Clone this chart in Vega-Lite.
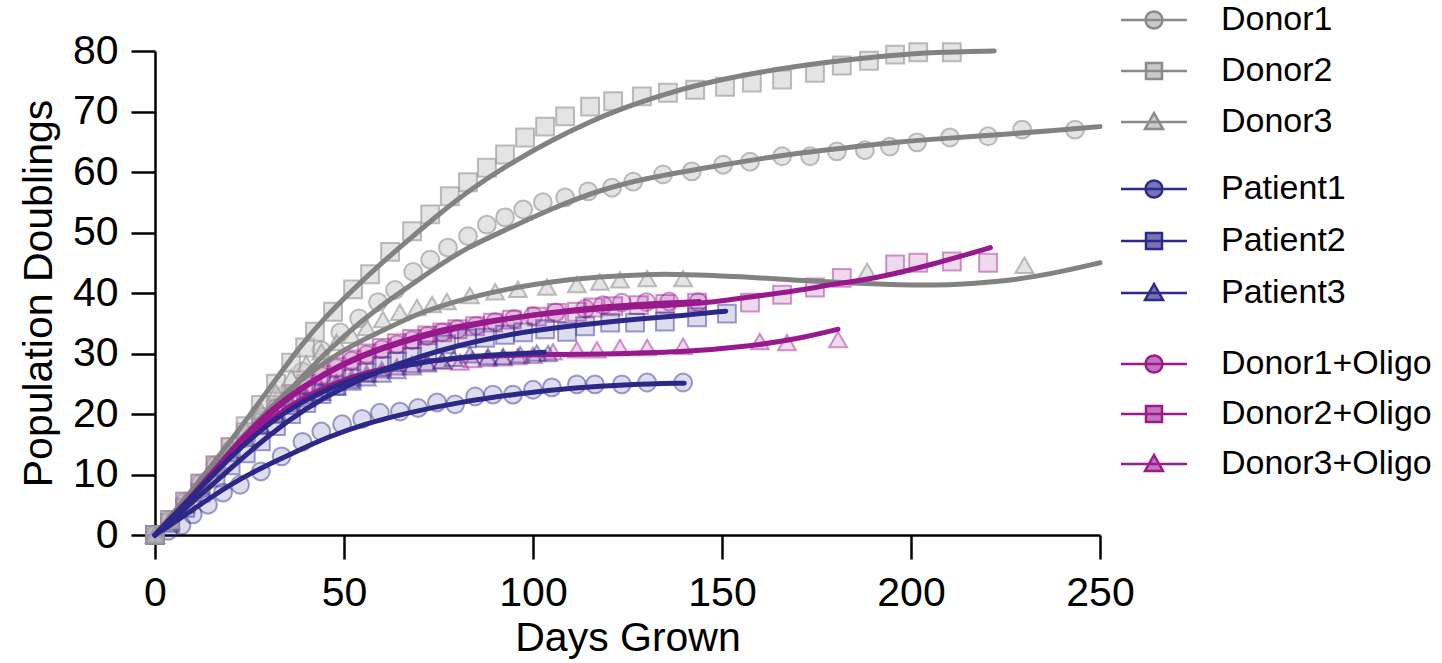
{
"$schema":"https://vega.github.io/schema/vega-lite/v6.json",
"width":945,"height":484,
"autosize":{"type":"none"},
"padding":{"left":155,"top":51,"right":342,"bottom":128},
"background":"white",
"config":{
 "font":"Liberation Sans",
 "view":{"stroke":null},
 "axis":{"domainColor":"black","domainWidth":2.5,"tickColor":"black","tickWidth":2.5,"tickSize":24,"labelFontSize":41,"titleFontSize":41,"titleFontWeight":"normal","labelColor":"black","titleColor":"black","grid":false,"labelFlush":false}
},
"datasets":{
"pts":[
{"series":"Donor1","day":0,"pd":0},{"series":"Donor1","day":4,"pd":2.5},{"series":"Donor1","day":9,"pd":5.5},{"series":"Donor1","day":14,"pd":9},{"series":"Donor1","day":19,"pd":12.5},{"series":"Donor1","day":24,"pd":16},{"series":"Donor1","day":29,"pd":19.5},{"series":"Donor1","day":34,"pd":23},{"series":"Donor1","day":39,"pd":27},{"series":"Donor1","day":44,"pd":30.5},{"series":"Donor1","day":49,"pd":33.5},{"series":"Donor1","day":54,"pd":35.8},{"series":"Donor1","day":59,"pd":38.5},{"series":"Donor1","day":63.5,"pd":40.5},{"series":"Donor1","day":68.3,"pd":43.5},{"series":"Donor1","day":72.8,"pd":45.5},{"series":"Donor1","day":77.5,"pd":47.5},{"series":"Donor1","day":82.8,"pd":49.4},{"series":"Donor1","day":87.8,"pd":51.3},{"series":"Donor1","day":92.6,"pd":52.5},{"series":"Donor1","day":97.4,"pd":53.8},{"series":"Donor1","day":102.6,"pd":55},{"series":"Donor1","day":108.5,"pd":55.8},{"series":"Donor1","day":114.6,"pd":56.8},{"series":"Donor1","day":120.9,"pd":57.4},{"series":"Donor1","day":126.5,"pd":58.4},{"series":"Donor1","day":134.4,"pd":59.6},{"series":"Donor1","day":142,"pd":60.1},{"series":"Donor1","day":150.3,"pd":61.2},{"series":"Donor1","day":157.4,"pd":61.7},{"series":"Donor1","day":165.9,"pd":62.6},{"series":"Donor1","day":173.3,"pd":62.6},{"series":"Donor1","day":180.4,"pd":63.4},{"series":"Donor1","day":187.8,"pd":63.6},{"series":"Donor1","day":194.4,"pd":64.2},{"series":"Donor1","day":201.6,"pd":64.9},{"series":"Donor1","day":210.3,"pd":65.7},{"series":"Donor1","day":220.4,"pd":65.9},{"series":"Donor1","day":229.4,"pd":67},{"series":"Donor1","day":243.4,"pd":67},
{"series":"Donor2","day":0,"pd":0},{"series":"Donor2","day":4,"pd":2.5},{"series":"Donor2","day":8,"pd":5.5},{"series":"Donor2","day":12,"pd":8.5},{"series":"Donor2","day":16,"pd":11.5},{"series":"Donor2","day":20,"pd":14.5},{"series":"Donor2","day":24,"pd":18},{"series":"Donor2","day":28,"pd":21.5},{"series":"Donor2","day":32,"pd":25},{"series":"Donor2","day":36,"pd":28.5},{"series":"Donor2","day":39.7,"pd":31},{"series":"Donor2","day":42.3,"pd":33.6},{"series":"Donor2","day":47.1,"pd":36.9},{"series":"Donor2","day":52.4,"pd":40.6},{"series":"Donor2","day":56.9,"pd":43.1},{"series":"Donor2","day":62.2,"pd":46.8},{"series":"Donor2","day":68,"pd":50.2},{"series":"Donor2","day":72.8,"pd":53},{"series":"Donor2","day":78,"pd":56},{"series":"Donor2","day":82.8,"pd":58.3},{"series":"Donor2","day":87.8,"pd":60.7},{"series":"Donor2","day":92.6,"pd":62.9},{"series":"Donor2","day":97.9,"pd":65.7},{"series":"Donor2","day":103.2,"pd":67.5},{"series":"Donor2","day":108.5,"pd":69.2},{"series":"Donor2","day":115.1,"pd":70.8},{"series":"Donor2","day":121.2,"pd":71.7},{"series":"Donor2","day":128.8,"pd":72.5},{"series":"Donor2","day":135.7,"pd":73.1},{"series":"Donor2","day":142.9,"pd":73.6},{"series":"Donor2","day":150.8,"pd":74.1},{"series":"Donor2","day":157.9,"pd":74.8},{"series":"Donor2","day":165.9,"pd":75.3},{"series":"Donor2","day":174.6,"pd":76.4},{"series":"Donor2","day":181.7,"pd":77.6},{"series":"Donor2","day":188.9,"pd":78.4},{"series":"Donor2","day":195.8,"pd":79.4},{"series":"Donor2","day":201.9,"pd":79.8},{"series":"Donor2","day":210.8,"pd":79.8},
{"series":"Donor3","day":0,"pd":0},{"series":"Donor3","day":4,"pd":2.5},{"series":"Donor3","day":8,"pd":5.5},{"series":"Donor3","day":12,"pd":8.5},{"series":"Donor3","day":16,"pd":11.5},{"series":"Donor3","day":20,"pd":14.5},{"series":"Donor3","day":24,"pd":17.5},{"series":"Donor3","day":28,"pd":20.5},{"series":"Donor3","day":32,"pd":23.5},{"series":"Donor3","day":36,"pd":26},{"series":"Donor3","day":40,"pd":28.3},{"series":"Donor3","day":44,"pd":30.3},{"series":"Donor3","day":48,"pd":31.8},{"series":"Donor3","day":52,"pd":33},{"series":"Donor3","day":56,"pd":34.3},{"series":"Donor3","day":60.3,"pd":35.6},{"series":"Donor3","day":64.8,"pd":36.8},{"series":"Donor3","day":69.3,"pd":37.6},{"series":"Donor3","day":73.3,"pd":38.1},{"series":"Donor3","day":77.2,"pd":38.6},{"series":"Donor3","day":83.3,"pd":39.6},{"series":"Donor3","day":90,"pd":40.2},{"series":"Donor3","day":96,"pd":40.6},{"series":"Donor3","day":103.7,"pd":41},{"series":"Donor3","day":111.6,"pd":41.4},{"series":"Donor3","day":117.7,"pd":41.8},{"series":"Donor3","day":123,"pd":42.2},{"series":"Donor3","day":130.2,"pd":42.4},{"series":"Donor3","day":139.7,"pd":42.4},{"series":"Donor3","day":188.4,"pd":43.6},{"series":"Donor3","day":230,"pd":44.6},
{"series":"Patient1","day":0,"pd":0},{"series":"Patient1","day":3.5,"pd":0.7},{"series":"Patient1","day":7,"pd":1.6},{"series":"Patient1","day":10,"pd":3.4},{"series":"Patient1","day":14,"pd":5},{"series":"Patient1","day":18,"pd":7},{"series":"Patient1","day":22.5,"pd":8.3},{"series":"Patient1","day":28,"pd":10.5},{"series":"Patient1","day":33.5,"pd":13},{"series":"Patient1","day":39,"pd":15.4},{"series":"Patient1","day":44,"pd":17.1},{"series":"Patient1","day":49.5,"pd":18.3},{"series":"Patient1","day":54.8,"pd":19.2},{"series":"Patient1","day":59.5,"pd":20.2},{"series":"Patient1","day":64.8,"pd":20.4},{"series":"Patient1","day":69.6,"pd":21},{"series":"Patient1","day":74.6,"pd":21.9},{"series":"Patient1","day":79.4,"pd":21.6},{"series":"Patient1","day":84.7,"pd":22.9},{"series":"Patient1","day":89.4,"pd":23.2},{"series":"Patient1","day":94.7,"pd":23.2},{"series":"Patient1","day":100,"pd":24},{"series":"Patient1","day":105,"pd":24.4},{"series":"Patient1","day":111.6,"pd":24.9},{"series":"Patient1","day":116.4,"pd":24.9},{"series":"Patient1","day":123.5,"pd":24.9},{"series":"Patient1","day":130.2,"pd":25.2},{"series":"Patient1","day":139.7,"pd":25.2},
{"series":"Patient2","day":0,"pd":0},{"series":"Patient2","day":4,"pd":2},{"series":"Patient2","day":8,"pd":4.5},{"series":"Patient2","day":12,"pd":7},{"series":"Patient2","day":16,"pd":9.5},{"series":"Patient2","day":20,"pd":11.5},{"series":"Patient2","day":24,"pd":13.5},{"series":"Patient2","day":28,"pd":15.5},{"series":"Patient2","day":32,"pd":18},{"series":"Patient2","day":36,"pd":20},{"series":"Patient2","day":40,"pd":21.8},{"series":"Patient2","day":44,"pd":23.3},{"series":"Patient2","day":48,"pd":24.6},{"series":"Patient2","day":52,"pd":25.8},{"series":"Patient2","day":56,"pd":26.8},{"series":"Patient2","day":60,"pd":27.8},{"series":"Patient2","day":64,"pd":28.6},{"series":"Patient2","day":68,"pd":29.4},{"series":"Patient2","day":72,"pd":30.5},{"series":"Patient2","day":77,"pd":31.5},{"series":"Patient2","day":82.5,"pd":32.5},{"series":"Patient2","day":87.3,"pd":32.6},{"series":"Patient2","day":92.6,"pd":33.1},{"series":"Patient2","day":97.4,"pd":33.5},{"series":"Patient2","day":103.2,"pd":34},{"series":"Patient2","day":109,"pd":33.6},{"series":"Patient2","day":113.8,"pd":34.5},{"series":"Patient2","day":120.4,"pd":35.1},{"series":"Patient2","day":127,"pd":35.1},{"series":"Patient2","day":134.9,"pd":35.3},{"series":"Patient2","day":143.4,"pd":36},{"series":"Patient2","day":151.3,"pd":36.6},
{"series":"Patient3","day":0,"pd":0},{"series":"Patient3","day":4,"pd":2.2},{"series":"Patient3","day":8,"pd":5},{"series":"Patient3","day":12,"pd":8},{"series":"Patient3","day":16,"pd":11},{"series":"Patient3","day":20,"pd":13.5},{"series":"Patient3","day":24,"pd":16},{"series":"Patient3","day":28,"pd":18},{"series":"Patient3","day":32,"pd":19.8},{"series":"Patient3","day":36,"pd":21.3},{"series":"Patient3","day":40,"pd":22.5},{"series":"Patient3","day":44,"pd":23.6},{"series":"Patient3","day":48,"pd":24.5},{"series":"Patient3","day":52,"pd":25.3},{"series":"Patient3","day":56,"pd":26},{"series":"Patient3","day":60,"pd":26.6},{"series":"Patient3","day":64,"pd":27.2},{"series":"Patient3","day":68,"pd":27.8},{"series":"Patient3","day":72,"pd":28.3},{"series":"Patient3","day":76,"pd":28.8},{"series":"Patient3","day":79,"pd":29.2},{"series":"Patient3","day":83.3,"pd":29.8},{"series":"Patient3","day":88.1,"pd":29.5},{"series":"Patient3","day":92.1,"pd":29.5},{"series":"Patient3","day":96.6,"pd":29.8},{"series":"Patient3","day":101,"pd":30.1},{"series":"Patient3","day":104,"pd":30},
{"series":"Donor1+Oligo","day":0,"pd":0},{"series":"Donor1+Oligo","day":4,"pd":2.5},{"series":"Donor1+Oligo","day":8,"pd":5.5},{"series":"Donor1+Oligo","day":12,"pd":8.5},{"series":"Donor1+Oligo","day":16,"pd":11.5},{"series":"Donor1+Oligo","day":20,"pd":14},{"series":"Donor1+Oligo","day":24,"pd":16.5},{"series":"Donor1+Oligo","day":28,"pd":19},{"series":"Donor1+Oligo","day":32,"pd":21},{"series":"Donor1+Oligo","day":36,"pd":23},{"series":"Donor1+Oligo","day":40,"pd":24.8},{"series":"Donor1+Oligo","day":44,"pd":26.3},{"series":"Donor1+Oligo","day":48,"pd":27.6},{"series":"Donor1+Oligo","day":52,"pd":28.8},{"series":"Donor1+Oligo","day":56,"pd":29.8},{"series":"Donor1+Oligo","day":60,"pd":30.7},{"series":"Donor1+Oligo","day":64,"pd":31.5},{"series":"Donor1+Oligo","day":68,"pd":32.2},{"series":"Donor1+Oligo","day":72,"pd":32.9},{"series":"Donor1+Oligo","day":76,"pd":33.5},{"series":"Donor1+Oligo","day":80,"pd":34},{"series":"Donor1+Oligo","day":85,"pd":34.6},{"series":"Donor1+Oligo","day":90,"pd":35.2},{"series":"Donor1+Oligo","day":95,"pd":35.7},{"series":"Donor1+Oligo","day":100,"pd":36.2},{"series":"Donor1+Oligo","day":106,"pd":36.8},{"series":"Donor1+Oligo","day":113.8,"pd":37.4},{"series":"Donor1+Oligo","day":118.5,"pd":38},{"series":"Donor1+Oligo","day":123.5,"pd":38.4},{"series":"Donor1+Oligo","day":130,"pd":38.5},{"series":"Donor1+Oligo","day":136,"pd":38.6},{"series":"Donor1+Oligo","day":143.7,"pd":38.5},
{"series":"Donor2+Oligo","day":0,"pd":0},{"series":"Donor2+Oligo","day":4,"pd":2.5},{"series":"Donor2+Oligo","day":8,"pd":5.5},{"series":"Donor2+Oligo","day":12,"pd":8.5},{"series":"Donor2+Oligo","day":16,"pd":11.5},{"series":"Donor2+Oligo","day":20,"pd":14.5},{"series":"Donor2+Oligo","day":24,"pd":17},{"series":"Donor2+Oligo","day":28,"pd":19.5},{"series":"Donor2+Oligo","day":32,"pd":21.5},{"series":"Donor2+Oligo","day":36,"pd":23.3},{"series":"Donor2+Oligo","day":40,"pd":25},{"series":"Donor2+Oligo","day":44,"pd":26.5},{"series":"Donor2+Oligo","day":48,"pd":27.8},{"series":"Donor2+Oligo","day":52,"pd":29},{"series":"Donor2+Oligo","day":56,"pd":30},{"series":"Donor2+Oligo","day":60,"pd":30.9},{"series":"Donor2+Oligo","day":64,"pd":31.7},{"series":"Donor2+Oligo","day":68,"pd":32.4},{"series":"Donor2+Oligo","day":72,"pd":33},{"series":"Donor2+Oligo","day":76,"pd":33.5},{"series":"Donor2+Oligo","day":80,"pd":34},{"series":"Donor2+Oligo","day":84.7,"pd":34.5},{"series":"Donor2+Oligo","day":89.4,"pd":35.1},{"series":"Donor2+Oligo","day":94.4,"pd":35.6},{"series":"Donor2+Oligo","day":101,"pd":36.1},{"series":"Donor2+Oligo","day":106.3,"pd":36.7},{"series":"Donor2+Oligo","day":111.6,"pd":36.9},{"series":"Donor2+Oligo","day":115.9,"pd":37.6},{"series":"Donor2+Oligo","day":121.2,"pd":37.8},{"series":"Donor2+Oligo","day":128,"pd":38},{"series":"Donor2+Oligo","day":135,"pd":38.2},{"series":"Donor2+Oligo","day":143.4,"pd":38.4},{"series":"Donor2+Oligo","day":157.4,"pd":38.4},{"series":"Donor2+Oligo","day":165.9,"pd":39.7},{"series":"Donor2+Oligo","day":174.6,"pd":40.9},{"series":"Donor2+Oligo","day":181.7,"pd":42.5},{"series":"Donor2+Oligo","day":195.8,"pd":44.7},{"series":"Donor2+Oligo","day":201.9,"pd":45},{"series":"Donor2+Oligo","day":210.8,"pd":45.2},{"series":"Donor2+Oligo","day":220.4,"pd":45},
{"series":"Donor3+Oligo","day":0,"pd":0},{"series":"Donor3+Oligo","day":4,"pd":2.5},{"series":"Donor3+Oligo","day":8,"pd":5.3},{"series":"Donor3+Oligo","day":12,"pd":8.3},{"series":"Donor3+Oligo","day":16,"pd":11},{"series":"Donor3+Oligo","day":20,"pd":13.5},{"series":"Donor3+Oligo","day":24,"pd":16},{"series":"Donor3+Oligo","day":28,"pd":18},{"series":"Donor3+Oligo","day":32,"pd":20},{"series":"Donor3+Oligo","day":36,"pd":21.7},{"series":"Donor3+Oligo","day":40,"pd":23},{"series":"Donor3+Oligo","day":44,"pd":24.2},{"series":"Donor3+Oligo","day":48,"pd":25.2},{"series":"Donor3+Oligo","day":52,"pd":26},{"series":"Donor3+Oligo","day":56,"pd":26.7},{"series":"Donor3+Oligo","day":60,"pd":27.3},{"series":"Donor3+Oligo","day":64,"pd":27.8},{"series":"Donor3+Oligo","day":68,"pd":28.2},{"series":"Donor3+Oligo","day":72,"pd":28.5},{"series":"Donor3+Oligo","day":76,"pd":28.8},{"series":"Donor3+Oligo","day":80.7,"pd":28.6},{"series":"Donor3+Oligo","day":84,"pd":29},{"series":"Donor3+Oligo","day":88,"pd":29.2},{"series":"Donor3+Oligo","day":92,"pd":29.3},{"series":"Donor3+Oligo","day":96,"pd":29.5},{"series":"Donor3+Oligo","day":100,"pd":29.7},{"series":"Donor3+Oligo","day":105.3,"pd":30.3},{"series":"Donor3+Oligo","day":111.6,"pd":30.6},{"series":"Donor3+Oligo","day":116.9,"pd":30.6},{"series":"Donor3+Oligo","day":123,"pd":31},{"series":"Donor3+Oligo","day":130.2,"pd":31},{"series":"Donor3+Oligo","day":139.7,"pd":31.2},{"series":"Donor3+Oligo","day":160,"pd":32},{"series":"Donor3+Oligo","day":167.2,"pd":31.8},{"series":"Donor3+Oligo","day":180.7,"pd":32.3}
],
"fit":[
{"series":"Donor1","day":0,"pd":0},{"series":"Donor1","day":10,"pd":6},{"series":"Donor1","day":20,"pd":13},{"series":"Donor1","day":30,"pd":20},{"series":"Donor1","day":40,"pd":27},{"series":"Donor1","day":50,"pd":33},{"series":"Donor1","day":60,"pd":38},{"series":"Donor1","day":67,"pd":41},{"series":"Donor1","day":75,"pd":44.5},{"series":"Donor1","day":82.5,"pd":47.5},{"series":"Donor1","day":93,"pd":50.5},{"series":"Donor1","day":105,"pd":54},{"series":"Donor1","day":118,"pd":57.1},{"series":"Donor1","day":130,"pd":59},{"series":"Donor1","day":144,"pd":60.5},{"series":"Donor1","day":157,"pd":61.9},{"series":"Donor1","day":171,"pd":63.2},{"series":"Donor1","day":184,"pd":64.1},{"series":"Donor1","day":197,"pd":65},{"series":"Donor1","day":210,"pd":65.6},{"series":"Donor1","day":224,"pd":66.2},{"series":"Donor1","day":237,"pd":66.8},{"series":"Donor1","day":250,"pd":67.5},
{"series":"Donor2","day":0,"pd":0},{"series":"Donor2","day":10,"pd":7.5},{"series":"Donor2","day":20,"pd":15.5},{"series":"Donor2","day":30,"pd":24},{"series":"Donor2","day":38.4,"pd":31.2},{"series":"Donor2","day":45,"pd":36},{"series":"Donor2","day":52.4,"pd":40.6},{"series":"Donor2","day":60,"pd":45},{"series":"Donor2","day":67.5,"pd":49},{"series":"Donor2","day":75,"pd":53},{"series":"Donor2","day":84,"pd":57.4},{"series":"Donor2","day":95,"pd":61.8},{"series":"Donor2","day":105,"pd":65.3},{"series":"Donor2","day":115,"pd":68.3},{"series":"Donor2","day":123,"pd":70.4},{"series":"Donor2","day":135,"pd":72.9},{"series":"Donor2","day":144,"pd":74.5},{"series":"Donor2","day":160,"pd":76.6},{"series":"Donor2","day":179,"pd":78.3},{"series":"Donor2","day":195,"pd":79.3},{"series":"Donor2","day":206,"pd":79.8},{"series":"Donor2","day":222,"pd":80},
{"series":"Donor3","day":0,"pd":0},{"series":"Donor3","day":10,"pd":7},{"series":"Donor3","day":20,"pd":14},{"series":"Donor3","day":30,"pd":20.8},{"series":"Donor3","day":38.4,"pd":25.7},{"series":"Donor3","day":50,"pd":30.8},{"series":"Donor3","day":60.3,"pd":33.8},{"series":"Donor3","day":70,"pd":36.8},{"series":"Donor3","day":82.5,"pd":39.2},{"series":"Donor3","day":95,"pd":40.9},{"series":"Donor3","day":105,"pd":41.9},{"series":"Donor3","day":117.7,"pd":42.7},{"series":"Donor3","day":130,"pd":43.1},{"series":"Donor3","day":140,"pd":43.1},{"series":"Donor3","day":155,"pd":42.7},{"series":"Donor3","day":170,"pd":42.1},{"series":"Donor3","day":185,"pd":41.6},{"series":"Donor3","day":197,"pd":41.3},{"series":"Donor3","day":210,"pd":41.3},{"series":"Donor3","day":223,"pd":41.8},{"series":"Donor3","day":237,"pd":43.1},{"series":"Donor3","day":250,"pd":45},
{"series":"Patient1","day":0,"pd":0},{"series":"Patient1","day":5,"pd":2},{"series":"Patient1","day":10,"pd":4.2},{"series":"Patient1","day":15,"pd":6.3},{"series":"Patient1","day":20,"pd":8.3},{"series":"Patient1","day":25,"pd":10.1},{"series":"Patient1","day":32.6,"pd":12.4},{"series":"Patient1","day":38.4,"pd":14.1},{"series":"Patient1","day":45,"pd":16},{"series":"Patient1","day":55,"pd":18.3},{"series":"Patient1","day":67.5,"pd":20.3},{"series":"Patient1","day":80,"pd":21.9},{"series":"Patient1","day":96.6,"pd":23.4},{"series":"Patient1","day":110,"pd":24.3},{"series":"Patient1","day":125.7,"pd":24.9},{"series":"Patient1","day":140,"pd":25.1},
{"series":"Patient2","day":0,"pd":0},{"series":"Patient2","day":10,"pd":5.5},{"series":"Patient2","day":20,"pd":11},{"series":"Patient2","day":30,"pd":16.5},{"series":"Patient2","day":40,"pd":21},{"series":"Patient2","day":50,"pd":24.5},{"series":"Patient2","day":60,"pd":27.3},{"series":"Patient2","day":70,"pd":29.5},{"series":"Patient2","day":80,"pd":31.3},{"series":"Patient2","day":90,"pd":32.7},{"series":"Patient2","day":100,"pd":33.8},{"series":"Patient2","day":117.7,"pd":35.1},{"series":"Patient2","day":130,"pd":35.8},{"series":"Patient2","day":140,"pd":36.3},{"series":"Patient2","day":151,"pd":37},
{"series":"Patient3","day":0,"pd":0},{"series":"Patient3","day":10,"pd":6.5},{"series":"Patient3","day":20,"pd":13},{"series":"Patient3","day":30,"pd":18.5},{"series":"Patient3","day":40,"pd":22.5},{"series":"Patient3","day":50,"pd":25.3},{"series":"Patient3","day":60,"pd":27.2},{"series":"Patient3","day":70,"pd":28.5},{"series":"Patient3","day":80,"pd":29.3},{"series":"Patient3","day":90,"pd":29.8},{"series":"Patient3","day":103,"pd":30.2},
{"series":"Donor1+Oligo","day":0,"pd":0},{"series":"Donor1+Oligo","day":10,"pd":6.5},{"series":"Donor1+Oligo","day":20,"pd":13.5},{"series":"Donor1+Oligo","day":30,"pd":20},{"series":"Donor1+Oligo","day":40,"pd":24.8},{"series":"Donor1+Oligo","day":50,"pd":28.3},{"series":"Donor1+Oligo","day":60,"pd":30.8},{"series":"Donor1+Oligo","day":70,"pd":32.7},{"series":"Donor1+Oligo","day":80,"pd":34.2},{"series":"Donor1+Oligo","day":90,"pd":35.4},{"series":"Donor1+Oligo","day":100,"pd":36.4},{"series":"Donor1+Oligo","day":110,"pd":37.2},{"series":"Donor1+Oligo","day":120,"pd":37.8},{"series":"Donor1+Oligo","day":130,"pd":38.2},{"series":"Donor1+Oligo","day":144,"pd":38.6},
{"series":"Donor2+Oligo","day":0,"pd":0},{"series":"Donor2+Oligo","day":10,"pd":6.5},{"series":"Donor2+Oligo","day":20,"pd":14},{"series":"Donor2+Oligo","day":30,"pd":20.5},{"series":"Donor2+Oligo","day":40,"pd":25},{"series":"Donor2+Oligo","day":50,"pd":28.5},{"series":"Donor2+Oligo","day":60,"pd":31},{"series":"Donor2+Oligo","day":70,"pd":33},{"series":"Donor2+Oligo","day":80,"pd":34.5},{"series":"Donor2+Oligo","day":90,"pd":35.5},{"series":"Donor2+Oligo","day":100,"pd":36.4},{"series":"Donor2+Oligo","day":117.7,"pd":37.4},{"series":"Donor2+Oligo","day":130,"pd":37.8},{"series":"Donor2+Oligo","day":144,"pd":38.2},{"series":"Donor2+Oligo","day":157,"pd":39.3},{"series":"Donor2+Oligo","day":170,"pd":40.4},{"series":"Donor2+Oligo","day":179,"pd":41.4},{"series":"Donor2+Oligo","day":192,"pd":42.6},{"series":"Donor2+Oligo","day":205,"pd":44.6},{"series":"Donor2+Oligo","day":221,"pd":47.5},
{"series":"Donor3+Oligo","day":0,"pd":0},{"series":"Donor3+Oligo","day":10,"pd":6.5},{"series":"Donor3+Oligo","day":20,"pd":13.5},{"series":"Donor3+Oligo","day":30,"pd":19},{"series":"Donor3+Oligo","day":40,"pd":23},{"series":"Donor3+Oligo","day":50,"pd":25.8},{"series":"Donor3+Oligo","day":60,"pd":27.5},{"series":"Donor3+Oligo","day":70,"pd":28.6},{"series":"Donor3+Oligo","day":80,"pd":29.2},{"series":"Donor3+Oligo","day":90,"pd":29.6},{"series":"Donor3+Oligo","day":100,"pd":29.8},{"series":"Donor3+Oligo","day":117.7,"pd":29.9},{"series":"Donor3+Oligo","day":139.7,"pd":30.2},{"series":"Donor3+Oligo","day":157.4,"pd":31.2},{"series":"Donor3+Oligo","day":170,"pd":32.4},{"series":"Donor3+Oligo","day":180.7,"pd":34}
]
},
"encoding":{
 "x":{"field":"day","type":"quantitative","scale":{"domain":[0,250],"nice":false},"axis":{"values":[0,50,100,150,200,250],"title":"Days Grown","labelPadding":14,"titlePadding":5}},
 "y":{"field":"pd","type":"quantitative","scale":{"domain":[0,80],"nice":false},"axis":{"values":[0,10,20,30,40,50,60,70,80],"title":"Population Doublings","labelPadding":13,"titlePadding":12}}
},
"layer":[
 {"data":{"name":"pts"},"transform":[{"filter":{"field":"series","oneOf":["Donor1","Donor2","Donor3"]}}],
  "mark":{"type":"point","filled":true,"opacity":0},
  "encoding":{
   "shape":{"field":"series","type":"nominal","scale":{"domain":["Donor1","Donor2","Donor3"],"range":["M-3.3,0H3.3M-0.85,0A0.85,0.85,0,1,0,0.85,0A0.85,0.85,0,1,0,-0.85,0Z","M-3.3,0H3.3M-0.8,-0.8H0.8V0.8H-0.8Z","M-3.3,0H3.3M0,-0.9L0.9,0.7H-0.9Z"]},"legend":{"title":null,"orient":"none","legendX":982,"legendY":-48,"symbolSize":400,"symbolStrokeWidth":2.5,"symbolOpacity":1,"labelFontSize":34,"labelOffset":50,"labelLimit":400,"rowPadding":17,"padding":0,"labelColor":"black"}},
   "fill":{"field":"series","type":"nominal","scale":{"domain":["Donor1","Donor2","Donor3"],"range":["rgba(150,150,150,0.5)","rgba(150,150,150,0.5)","rgba(150,150,150,0.5)"]},"legend":{"title":null,"orient":"none","legendX":982,"legendY":-48,"symbolSize":400,"symbolStrokeWidth":2.5,"symbolOpacity":1,"labelFontSize":34,"labelOffset":50,"labelLimit":400,"rowPadding":17,"padding":0,"labelColor":"black"}},
   "stroke":{"field":"series","type":"nominal","scale":{"domain":["Donor1","Donor2","Donor3"],"range":["#8a8a8a","#8a8a8a","#8a8a8a"]},"legend":{"title":null,"orient":"none","legendX":982,"legendY":-48,"symbolSize":400,"symbolStrokeWidth":2.5,"symbolOpacity":1,"labelFontSize":34,"labelOffset":50,"labelLimit":400,"rowPadding":17,"padding":0,"labelColor":"black"}}
  }},
 {"data":{"name":"pts"},"transform":[{"filter":{"field":"series","oneOf":["Patient1","Patient2","Patient3"]}}],
  "mark":{"type":"point","filled":true,"opacity":0},
  "encoding":{
   "shape":{"field":"series","type":"nominal","scale":{"domain":["Patient1","Patient2","Patient3"],"range":["M-3.3,0H3.3M-0.85,0A0.85,0.85,0,1,0,0.85,0A0.85,0.85,0,1,0,-0.85,0Z","M-3.3,0H3.3M-0.8,-0.8H0.8V0.8H-0.8Z","M-3.3,0H3.3M0,-0.9L0.9,0.7H-0.9Z"]},"legend":{"title":null,"orient":"none","legendX":982,"legendY":121,"symbolSize":400,"symbolStrokeWidth":2.5,"symbolOpacity":1,"labelFontSize":34,"labelOffset":50,"labelLimit":400,"rowPadding":18,"padding":0,"labelColor":"black"}},
   "fill":{"field":"series","type":"nominal","scale":{"domain":["Patient1","Patient2","Patient3"],"range":["rgba(46,42,140,0.65)","rgba(46,42,140,0.65)","rgba(46,42,140,0.65)"]},"legend":{"title":null,"orient":"none","legendX":982,"legendY":121,"symbolSize":400,"symbolStrokeWidth":2.5,"symbolOpacity":1,"labelFontSize":34,"labelOffset":50,"labelLimit":400,"rowPadding":18,"padding":0,"labelColor":"black"}},
   "stroke":{"field":"series","type":"nominal","scale":{"domain":["Patient1","Patient2","Patient3"],"range":["#2e2a8c","#2e2a8c","#2e2a8c"]},"legend":{"title":null,"orient":"none","legendX":982,"legendY":121,"symbolSize":400,"symbolStrokeWidth":2.5,"symbolOpacity":1,"labelFontSize":34,"labelOffset":50,"labelLimit":400,"rowPadding":18,"padding":0,"labelColor":"black"}}
  }},
 {"data":{"name":"pts"},"transform":[{"filter":{"field":"series","oneOf":["Donor1+Oligo","Donor2+Oligo","Donor3+Oligo"]}}],
  "mark":{"type":"point","filled":true,"opacity":0},
  "encoding":{
   "shape":{"field":"series","type":"nominal","scale":{"domain":["Donor1+Oligo","Donor2+Oligo","Donor3+Oligo"],"range":["M-3.3,0H3.3M-0.85,0A0.85,0.85,0,1,0,0.85,0A0.85,0.85,0,1,0,-0.85,0Z","M-3.3,0H3.3M-0.8,-0.8H0.8V0.8H-0.8Z","M-3.3,0H3.3M0,-0.9L0.9,0.7H-0.9Z"]},"legend":{"title":null,"orient":"none","legendX":982,"legendY":296,"symbolSize":400,"symbolStrokeWidth":2.5,"symbolOpacity":1,"labelFontSize":34,"labelOffset":50,"labelLimit":400,"rowPadding":16,"padding":0,"labelColor":"black"}},
   "fill":{"field":"series","type":"nominal","scale":{"domain":["Donor1+Oligo","Donor2+Oligo","Donor3+Oligo"],"range":["rgba(155,27,142,0.6)","rgba(155,27,142,0.6)","rgba(155,27,142,0.6)"]},"legend":{"title":null,"orient":"none","legendX":982,"legendY":296,"symbolSize":400,"symbolStrokeWidth":2.5,"symbolOpacity":1,"labelFontSize":34,"labelOffset":50,"labelLimit":400,"rowPadding":16,"padding":0,"labelColor":"black"}},
   "stroke":{"field":"series","type":"nominal","scale":{"domain":["Donor1+Oligo","Donor2+Oligo","Donor3+Oligo"],"range":["#9b1b8e","#9b1b8e","#9b1b8e"]},"legend":{"title":null,"orient":"none","legendX":982,"legendY":296,"symbolSize":400,"symbolStrokeWidth":2.5,"symbolOpacity":1,"labelFontSize":34,"labelOffset":50,"labelLimit":400,"rowPadding":16,"padding":0,"labelColor":"black"}}
  }},
 {"data":{"name":"pts"},"transform":[{"filter":{"field":"series","oneOf":["Donor1+Oligo","Donor2+Oligo","Donor3+Oligo"]}}],
  "mark":{"type":"point","filled":true,"size":320,"fill":"#9b1b8e","fillOpacity":0.16,"stroke":"#9b1b8e","strokeOpacity":0.45,"strokeWidth":2},
  "encoding":{"shape":{"field":"series","type":"nominal","scale":{"domain":["Donor1+Oligo","Donor2+Oligo","Donor3+Oligo"],"range":["circle","square","triangle-up"]},"legend":null}}},
 {"data":{"name":"pts"},"transform":[{"filter":{"field":"series","oneOf":["Patient1","Patient2","Patient3"]}}],
  "mark":{"type":"point","filled":true,"size":320,"fill":"#2e2a8c","fillOpacity":0.16,"stroke":"#2e2a8c","strokeOpacity":0.45,"strokeWidth":2},
  "encoding":{"shape":{"field":"series","type":"nominal","scale":{"domain":["Patient1","Patient2","Patient3"],"range":["circle","square","triangle-up"]},"legend":null}}},
 {"data":{"name":"pts"},"transform":[{"filter":{"field":"series","oneOf":["Donor1","Donor2","Donor3"]}}],
  "mark":{"type":"point","filled":true,"size":320,"fill":"#c4c4c4","fillOpacity":0.45,"stroke":"#9a9a9a","strokeOpacity":0.65,"strokeWidth":2},
  "encoding":{"shape":{"field":"series","type":"nominal","scale":{"domain":["Donor1","Donor2","Donor3"],"range":["circle","square","triangle-up"]},"legend":null}}},
 {"data":{"name":"fit"},"transform":[{"filter":{"field":"series","oneOf":["Donor1","Donor2","Donor3"]}}],
  "mark":{"type":"line","interpolate":"basis","stroke":"#828282","strokeWidth":5,"strokeCap":"round"},
  "encoding":{"detail":{"field":"series","type":"nominal"}}},
 {"data":{"name":"fit"},"transform":[{"filter":{"field":"series","oneOf":["Donor1+Oligo","Donor2+Oligo","Donor3+Oligo"]}}],
  "mark":{"type":"line","interpolate":"basis","stroke":"#98198c","strokeWidth":5,"strokeCap":"round"},
  "encoding":{"detail":{"field":"series","type":"nominal"}}},
 {"data":{"name":"fit"},"transform":[{"filter":{"field":"series","oneOf":["Patient1","Patient2","Patient3"]}}],
  "mark":{"type":"line","interpolate":"basis","stroke":"#2b2888","strokeWidth":5,"strokeCap":"round"},
  "encoding":{"detail":{"field":"series","type":"nominal"}}}
],
"resolve":{"scale":{"fill":"independent","stroke":"independent","shape":"independent"}}
}
